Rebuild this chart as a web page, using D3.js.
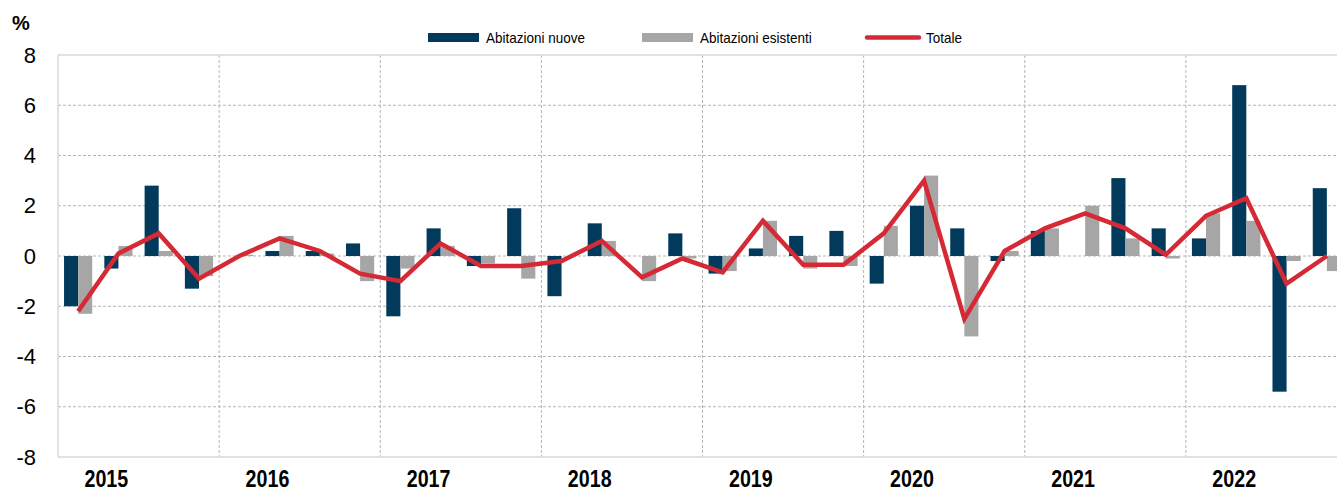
<!DOCTYPE html>
<html>
<head>
<meta charset="utf-8">
<script src="https://cdn.jsdelivr.net/npm/d3@7"></script>
<style>
	body { margin: 0; background: #fff; }
	svg { display: block; font-family: Arial, "Liberation Sans", sans-serif; }
</style>
</head>
<body>
<svg id="chart" width="1337" height="492"></svg>
<script>
// quarterly changes, 2015 Q1 - 2022 Q4
var years = ["2015", "2016", "2017", "2018", "2019", "2020", "2021", "2022"];
var quarters = ["T1", "T2", "T3", "T4"];
var yTicks = [-8, -6, -4, -2, 0, 2, 4, 6, 8];

var nuove = [
	-2.0, -0.5, 2.8, -1.3,
	0.0, 0.2, 0.2, 0.5,
	-2.4, 1.1, -0.4, 1.9,
	-1.6, 1.3, 0.0, 0.9,
	-0.7, 0.3, 0.8, 1.0,
	-1.1, 2.0, 1.1, -0.2,
	1.0, 0.0, 3.1, 1.1,
	0.7, 6.8, -5.4, 2.7
];
var esistenti = [
	-2.3, 0.4, 0.2, -0.8,
	0.05, 0.8, 0.1, -1.0,
	-0.5, 0.4, -0.3, -0.9,
	0.0, 0.6, -1.0, -0.1,
	-0.6, 1.4, -0.5, -0.4,
	1.2, 3.2, -3.2, 0.2,
	1.1, 2.0, 0.7, -0.1,
	1.7, 1.4, -0.2, -0.6
];
var totale = [
	-2.2, 0.1, 0.9, -0.9,
	0.0, 0.7, 0.2, -0.7,
	-1.0, 0.5, -0.4, -0.4,
	-0.2, 0.6, -0.85, -0.1,
	-0.65, 1.4, -0.35, -0.35,
	0.9, 3.0, -2.5, 0.2,
	1.1, 1.7, 1.1, 0.05,
	1.6, 2.3, -1.1, 0.0
];

var seriesNames = ["Abitazioni nuove", "Abitazioni esistenti", "Totale"];
var colors = ["#023a5c", "#a6a6a6", "#d52a36"];

var categories = [];
years.forEach(function (yr) {
	quarters.forEach(function (q) { categories.push(yr + " " + q); });
});

var svg = d3.select("#chart");
var plotLeft = 58, plotRight = 1347, plotTop = 55, plotBottom = 457;

var x = d3.scaleBand().domain(categories).range([plotLeft, plotRight])
	.paddingInner(0.3).paddingOuter(0.15);
var xSub = d3.scaleBand().domain([0, 1]).range([0, x.bandwidth()]);
var xYear = d3.scaleBand().domain(years).range([plotLeft, plotRight]);
var y = d3.scaleLinear().domain([-8, 8]).range([plotBottom, plotTop]);

// grid
var grid = svg.append("g");
grid.selectAll("line.h")
	.data(yTicks.filter(function (d) { return d > -8 && d < 8; }))
	.join("line")
	.attr("x1", plotLeft).attr("x2", plotRight)
	.attr("y1", function (d) { return y(d); })
	.attr("y2", function (d) { return y(d); })
	.attr("stroke", "#b3b3b3")
	.attr("stroke-dasharray", "3,2");
grid.selectAll("line.v")
	.data(years.slice(1))
	.join("line")
	.attr("x1", function (d) { return xYear(d); })
	.attr("x2", function (d) { return xYear(d); })
	.attr("y1", plotTop).attr("y2", plotBottom)
	.attr("stroke", "#b3b3b3")
	.attr("stroke-dasharray", "3,2");

// frame
svg.append("line").attr("x1", plotLeft).attr("x2", plotRight).attr("y1", plotTop).attr("y2", plotTop)
	.attr("stroke", "#d9d9d9").attr("stroke-width", 1.5);
svg.append("line").attr("x1", plotLeft).attr("x2", plotRight).attr("y1", plotBottom).attr("y2", plotBottom)
	.attr("stroke", "#d9d9d9").attr("stroke-width", 1.5);
svg.append("line").attr("x1", plotLeft).attr("x2", plotLeft).attr("y1", plotTop).attr("y2", plotBottom)
	.attr("stroke", "#d9d9d9").attr("stroke-width", 1.5);

// bars
[nuove, esistenti].forEach(function (vals, s) {
	svg.append("g").selectAll("rect")
		.data(vals)
		.join("rect")
		.attr("x", function (d, i) { return x(categories[i]) + xSub(s); })
		.attr("width", xSub.bandwidth())
		.attr("y", function (d) { return y(Math.max(0, d)); })
		.attr("height", function (d) { return Math.abs(y(d) - y(0)); })
		.attr("fill", colors[s]);
});

// total line
var line = d3.line()
	.x(function (d, i) { return x(categories[i]) + x.bandwidth() / 2; })
	.y(function (d) { return y(d); });
svg.append("path")
	.datum(totale)
	.attr("d", line)
	.attr("fill", "none")
	.attr("stroke", colors[2])
	.attr("stroke-width", 4.5)
	.attr("stroke-linejoin", "miter");

// y axis labels (plain hyphen for negatives, as in the source)
var yAxis = d3.axisLeft(y).tickValues(yTicks).tickSize(0).tickPadding(22)
	.tickFormat(function (d) { return String(d); });
var ga = svg.append("g").attr("transform", "translate(" + plotLeft + ",0)").call(yAxis);
ga.select(".domain").remove();
ga.selectAll("text")
	.attr("font-size", 22)
	.attr("font-family", "Arial, 'Liberation Sans', sans-serif")
	.attr("fill", "#000");

svg.append("text").attr("x", 12).attr("y", 30)
	.attr("font-size", 20).attr("font-weight", "bold").text("%");

// year labels
svg.append("g").selectAll("text")
	.data(years)
	.join("text")
	.attr("transform", function (d) {
		return "translate(" + (xYear(d) + xYear.bandwidth() * 0.3) + ",487) scale(0.82,1)";
	})
	.attr("text-anchor", "middle")
	.attr("font-size", 24)
	.attr("font-weight", "bold")
	.text(function (d) { return d; });

// legend
var legendX = [428, 642, 865];
var lg = svg.append("g");
seriesNames.forEach(function (name, i) {
	if (i < 2) {
		lg.append("rect").attr("x", legendX[i]).attr("y", 33)
			.attr("width", 51).attr("height", 9).attr("fill", colors[i]);
	} else {
		lg.append("line").attr("x1", legendX[i] + 2).attr("x2", legendX[i] + 54)
			.attr("y1", 37.5).attr("y2", 37.5)
			.attr("stroke", colors[i]).attr("stroke-width", 4.5)
			.attr("stroke-linecap", "round");
	}
	lg.append("text")
		.attr("transform", "translate(" + (legendX[i] + (i < 2 ? 58 : 61)) + ",43) scale(0.9,1)")
		.attr("font-size", 15)
		.text(name);
});
</script>
</body>
</html>
